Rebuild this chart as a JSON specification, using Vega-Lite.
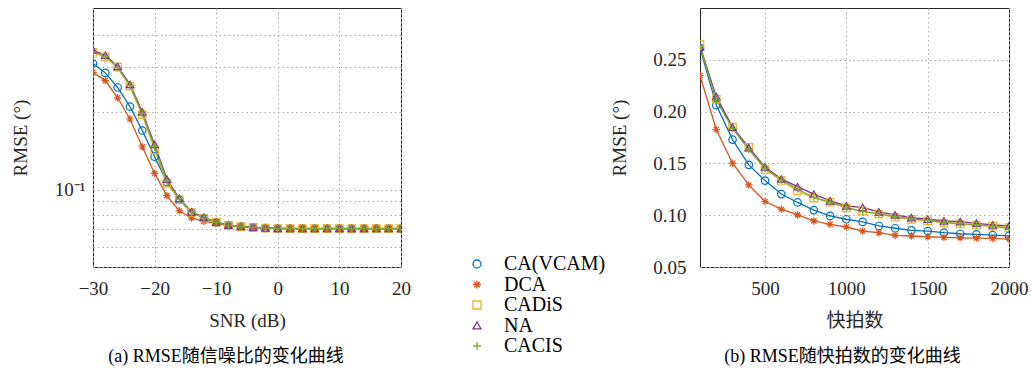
{
  "$schema": "https://vega.github.io/schema/vega-lite/v6.json",
  "background": "white",
  "padding": {"left": 10, "top": 7, "right": 0, "bottom": 0},
  "spacing": 198,
  "datasets": {
    "a": [
      {"s":"CA(VCAM)","x":-30,"v":0.310},{"s":"CA(VCAM)","x":-28,"v":0.285},{"s":"CA(VCAM)","x":-26,"v":0.250},{"s":"CA(VCAM)","x":-24,"v":0.2105},{"s":"CA(VCAM)","x":-22,"v":0.170},{"s":"CA(VCAM)","x":-20,"v":0.1345},{"s":"CA(VCAM)","x":-18,"v":0.107},{"s":"CA(VCAM)","x":-16,"v":0.0915},{"s":"CA(VCAM)","x":-14,"v":0.0815},{"s":"CA(VCAM)","x":-12,"v":0.0774},{"s":"CA(VCAM)","x":-10,"v":0.0745},{"s":"CA(VCAM)","x":-8,"v":0.0727},{"s":"CA(VCAM)","x":-6,"v":0.0718},{"s":"CA(VCAM)","x":-4,"v":0.0713},{"s":"CA(VCAM)","x":-2,"v":0.0709},{"s":"CA(VCAM)","x":0,"v":0.0706},{"s":"CA(VCAM)","x":2,"v":0.0705},{"s":"CA(VCAM)","x":4,"v":0.0705},{"s":"CA(VCAM)","x":6,"v":0.0705},{"s":"CA(VCAM)","x":8,"v":0.0705},{"s":"CA(VCAM)","x":10,"v":0.0705},{"s":"CA(VCAM)","x":12,"v":0.0705},{"s":"CA(VCAM)","x":14,"v":0.0705},{"s":"CA(VCAM)","x":16,"v":0.0705},{"s":"CA(VCAM)","x":18,"v":0.0705},{"s":"CA(VCAM)","x":20,"v":0.0705},
      {"s":"DCA","x":-30,"v":0.286},{"s":"DCA","x":-28,"v":0.266},{"s":"DCA","x":-26,"v":0.228},{"s":"DCA","x":-24,"v":0.1885},{"s":"DCA","x":-22,"v":0.147},{"s":"DCA","x":-20,"v":0.1157},{"s":"DCA","x":-18,"v":0.0948},{"s":"DCA","x":-16,"v":0.0828},{"s":"DCA","x":-14,"v":0.0776},{"s":"DCA","x":-12,"v":0.0753},{"s":"DCA","x":-10,"v":0.0740},{"s":"DCA","x":-8,"v":0.0724},{"s":"DCA","x":-6,"v":0.0716},{"s":"DCA","x":-4,"v":0.0711},{"s":"DCA","x":-2,"v":0.0708},{"s":"DCA","x":0,"v":0.0706},{"s":"DCA","x":2,"v":0.0705},{"s":"DCA","x":4,"v":0.0705},{"s":"DCA","x":6,"v":0.0705},{"s":"DCA","x":8,"v":0.0705},{"s":"DCA","x":10,"v":0.0705},{"s":"DCA","x":12,"v":0.0705},{"s":"DCA","x":14,"v":0.0705},{"s":"DCA","x":16,"v":0.0705},{"s":"DCA","x":18,"v":0.0705},{"s":"DCA","x":20,"v":0.0705},
      {"s":"CADiS","x":-30,"v":0.343},{"s":"CADiS","x":-28,"v":0.329},{"s":"CADiS","x":-26,"v":0.300},{"s":"CADiS","x":-24,"v":0.253},{"s":"CADiS","x":-22,"v":0.196},{"s":"CADiS","x":-20,"v":0.143},{"s":"CADiS","x":-18,"v":0.106},{"s":"CADiS","x":-16,"v":0.0915},{"s":"CADiS","x":-14,"v":0.0815},{"s":"CADiS","x":-12,"v":0.0776},{"s":"CADiS","x":-10,"v":0.0747},{"s":"CADiS","x":-8,"v":0.0728},{"s":"CADiS","x":-6,"v":0.0718},{"s":"CADiS","x":-4,"v":0.0713},{"s":"CADiS","x":-2,"v":0.0709},{"s":"CADiS","x":0,"v":0.0706},{"s":"CADiS","x":2,"v":0.0705},{"s":"CADiS","x":4,"v":0.0705},{"s":"CADiS","x":6,"v":0.0705},{"s":"CADiS","x":8,"v":0.0705},{"s":"CADiS","x":10,"v":0.0705},{"s":"CADiS","x":12,"v":0.0705},{"s":"CADiS","x":14,"v":0.0705},{"s":"CADiS","x":16,"v":0.0705},{"s":"CADiS","x":18,"v":0.0705},{"s":"CADiS","x":20,"v":0.0705},
      {"s":"NA","x":-30,"v":0.350},{"s":"NA","x":-28,"v":0.334},{"s":"NA","x":-26,"v":0.302},{"s":"NA","x":-24,"v":0.257},{"s":"NA","x":-22,"v":0.201},{"s":"NA","x":-20,"v":0.150},{"s":"NA","x":-18,"v":0.110},{"s":"NA","x":-16,"v":0.0925},{"s":"NA","x":-14,"v":0.0820},{"s":"NA","x":-12,"v":0.0780},{"s":"NA","x":-10,"v":0.0748},{"s":"NA","x":-8,"v":0.0728},{"s":"NA","x":-6,"v":0.0719},{"s":"NA","x":-4,"v":0.0714},{"s":"NA","x":-2,"v":0.0710},{"s":"NA","x":0,"v":0.0707},{"s":"NA","x":2,"v":0.0706},{"s":"NA","x":4,"v":0.0706},{"s":"NA","x":6,"v":0.0706},{"s":"NA","x":8,"v":0.0706},{"s":"NA","x":10,"v":0.0706},{"s":"NA","x":12,"v":0.0706},{"s":"NA","x":14,"v":0.0706},{"s":"NA","x":16,"v":0.0706},{"s":"NA","x":18,"v":0.0706},{"s":"NA","x":20,"v":0.0706},
      {"s":"CACIS","x":-30,"v":0.345},{"s":"CACIS","x":-28,"v":0.330},{"s":"CACIS","x":-26,"v":0.299},{"s":"CACIS","x":-24,"v":0.254},{"s":"CACIS","x":-22,"v":0.198},{"s":"CACIS","x":-20,"v":0.147},{"s":"CACIS","x":-18,"v":0.108},{"s":"CACIS","x":-16,"v":0.0920},{"s":"CACIS","x":-14,"v":0.0816},{"s":"CACIS","x":-12,"v":0.0776},{"s":"CACIS","x":-10,"v":0.0746},{"s":"CACIS","x":-8,"v":0.0727},{"s":"CACIS","x":-6,"v":0.0718},{"s":"CACIS","x":-4,"v":0.0713},{"s":"CACIS","x":-2,"v":0.0709},{"s":"CACIS","x":0,"v":0.0706},{"s":"CACIS","x":2,"v":0.0705},{"s":"CACIS","x":4,"v":0.0705},{"s":"CACIS","x":6,"v":0.0705},{"s":"CACIS","x":8,"v":0.0705},{"s":"CACIS","x":10,"v":0.0705},{"s":"CACIS","x":12,"v":0.0705},{"s":"CACIS","x":14,"v":0.0705},{"s":"CACIS","x":16,"v":0.0705},{"s":"CACIS","x":18,"v":0.0705},{"s":"CACIS","x":20,"v":0.0705}
    ],
    "b": [
      {"s":"CA(VCAM)","x":100,"v":0.2615},{"s":"CA(VCAM)","x":200,"v":0.2063},{"s":"CA(VCAM)","x":300,"v":0.173},{"s":"CA(VCAM)","x":400,"v":0.1486},{"s":"CA(VCAM)","x":500,"v":0.1334},{"s":"CA(VCAM)","x":600,"v":0.1204},{"s":"CA(VCAM)","x":700,"v":0.1123},{"s":"CA(VCAM)","x":800,"v":0.1049},{"s":"CA(VCAM)","x":900,"v":0.0993},{"s":"CA(VCAM)","x":1000,"v":0.0961},{"s":"CA(VCAM)","x":1100,"v":0.0935},{"s":"CA(VCAM)","x":1200,"v":0.0896},{"s":"CA(VCAM)","x":1300,"v":0.0874},{"s":"CA(VCAM)","x":1400,"v":0.0854},{"s":"CA(VCAM)","x":1500,"v":0.0847},{"s":"CA(VCAM)","x":1600,"v":0.0831},{"s":"CA(VCAM)","x":1700,"v":0.0821},{"s":"CA(VCAM)","x":1800,"v":0.0815},{"s":"CA(VCAM)","x":1900,"v":0.0808},{"s":"CA(VCAM)","x":2000,"v":0.0800},
      {"s":"DCA","x":100,"v":0.2348},{"s":"DCA","x":200,"v":0.1827},{"s":"DCA","x":300,"v":0.1502},{"s":"DCA","x":400,"v":0.1292},{"s":"DCA","x":500,"v":0.1132},{"s":"DCA","x":600,"v":0.1058},{"s":"DCA","x":700,"v":0.1003},{"s":"DCA","x":800,"v":0.0945},{"s":"DCA","x":900,"v":0.0912},{"s":"DCA","x":1000,"v":0.0886},{"s":"DCA","x":1100,"v":0.0847},{"s":"DCA","x":1200,"v":0.0831},{"s":"DCA","x":1300,"v":0.0805},{"s":"DCA","x":1400,"v":0.0799},{"s":"DCA","x":1500,"v":0.0792},{"s":"DCA","x":1600,"v":0.0786},{"s":"DCA","x":1700,"v":0.0782},{"s":"DCA","x":1800,"v":0.0779},{"s":"DCA","x":1900,"v":0.0776},{"s":"DCA","x":2000,"v":0.0770},
      {"s":"CADiS","x":100,"v":0.2650},{"s":"CADiS","x":200,"v":0.2120},{"s":"CADiS","x":300,"v":0.1850},{"s":"CADiS","x":400,"v":0.1655},{"s":"CADiS","x":500,"v":0.1440},{"s":"CADiS","x":600,"v":0.1335},{"s":"CADiS","x":700,"v":0.1235},{"s":"CADiS","x":800,"v":0.1165},{"s":"CADiS","x":900,"v":0.1125},{"s":"CADiS","x":1000,"v":0.1070},{"s":"CADiS","x":1100,"v":0.1040},{"s":"CADiS","x":1200,"v":0.1010},{"s":"CADiS","x":1300,"v":0.0980},{"s":"CADiS","x":1400,"v":0.0960},{"s":"CADiS","x":1500,"v":0.0945},{"s":"CADiS","x":1600,"v":0.0925},{"s":"CADiS","x":1700,"v":0.0915},{"s":"CADiS","x":1800,"v":0.0905},{"s":"CADiS","x":1900,"v":0.0895},{"s":"CADiS","x":2000,"v":0.0880},
      {"s":"NA","x":100,"v":0.2625},{"s":"NA","x":200,"v":0.2145},{"s":"NA","x":300,"v":0.1850},{"s":"NA","x":400,"v":0.1652},{"s":"NA","x":500,"v":0.1465},{"s":"NA","x":600,"v":0.1350},{"s":"NA","x":700,"v":0.1275},{"s":"NA","x":800,"v":0.1204},{"s":"NA","x":900,"v":0.1139},{"s":"NA","x":1000,"v":0.1090},{"s":"NA","x":1100,"v":0.1074},{"s":"NA","x":1200,"v":0.1032},{"s":"NA","x":1300,"v":0.1003},{"s":"NA","x":1400,"v":0.0977},{"s":"NA","x":1500,"v":0.0961},{"s":"NA","x":1600,"v":0.0945},{"s":"NA","x":1700,"v":0.0938},{"s":"NA","x":1800,"v":0.0922},{"s":"NA","x":1900,"v":0.0906},{"s":"NA","x":2000,"v":0.0896},
      {"s":"CACIS","x":100,"v":0.2630},{"s":"CACIS","x":200,"v":0.2110},{"s":"CACIS","x":300,"v":0.1837},{"s":"CACIS","x":400,"v":0.1632},{"s":"CACIS","x":500,"v":0.1453},{"s":"CACIS","x":600,"v":0.1340},{"s":"CACIS","x":700,"v":0.1253},{"s":"CACIS","x":800,"v":0.1171},{"s":"CACIS","x":900,"v":0.1123},{"s":"CACIS","x":1000,"v":0.1074},{"s":"CACIS","x":1100,"v":0.1035},{"s":"CACIS","x":1200,"v":0.1016},{"s":"CACIS","x":1300,"v":0.0986},{"s":"CACIS","x":1400,"v":0.0964},{"s":"CACIS","x":1500,"v":0.0951},{"s":"CACIS","x":1600,"v":0.0932},{"s":"CACIS","x":1700,"v":0.0918},{"s":"CACIS","x":1800,"v":0.0906},{"s":"CACIS","x":1900,"v":0.0893},{"s":"CACIS","x":2000,"v":0.0874}
    ]
  },
  "resolve": {"scale": {"color": "shared", "shape": "shared", "x": "independent", "y": "independent"}, "legend": {"color": "shared", "shape": "shared"}},
  "hconcat": [
    {
      "width": 308,
      "height": 259,
      "data": {"name": "a"},
      "title": {"text": "(a) RMSE随信噪比的变化曲线", "orient": "bottom", "anchor": "middle", "dx": -21, "offset": 18, "font": "Liberation Serif, Noto Sans CJK SC", "fontSize": 18, "fontWeight": "normal", "color": "#000000"},
      "layer": [
        {
          "mark": {"type": "line", "strokeWidth": 1.3, "clip": true},
          "encoding": {
            "x": {"field": "x", "type": "quantitative", "scale": {"domain": [-30, 20], "nice": false, "zero": false}, "axis": {"values": [-30, -20, -10, 0, 10, 20], "title": "SNR (dB)", "labelPadding": 12, "titlePadding": 13, "labelFlush": false}},
            "y": {"field": "v", "type": "quantitative", "scale": {"type": "log", "domain": [0.05, 0.51], "nice": false}, "axis": {"values": [0.05, 0.06, 0.07, 0.08, 0.09, 0.1, 0.2, 0.3, 0.4], "labelExpr": "datum.value == 0.1 ? '10⁻¹' : ''", "labelOverlap": false, "title": "RMSE (°)", "labelPadding": 8, "titlePadding": 24}},
            "color": {"field": "s", "type": "nominal", "scale": {"domain": ["CA(VCAM)", "DCA", "CADiS", "NA", "CACIS"], "range": ["#0072BD", "#D95319", "#EDB120", "#7E2F8E", "#77AC30"]}, "legend": {"orient": "none", "legendX": 374, "legendY": 246, "title": null, "labelFont": "Liberation Serif", "labelFontSize": 20, "labelColor": "#000000", "symbolSize": 64, "symbolStrokeWidth": 1.3, "labelOffset": 17, "rowPadding": 0.5, "padding": 0}}
          }
        },
        {
          "mark": {"type": "point", "filled": false, "size": 56, "strokeWidth": 1.2, "opacity": 1, "clip": true},
          "encoding": {
            "x": {"field": "x", "type": "quantitative"},
            "y": {"field": "v", "type": "quantitative"},
            "color": {"field": "s", "type": "nominal"},
            "shape": {"field": "s", "type": "nominal", "scale": {"domain": ["CA(VCAM)", "DCA", "CADiS", "NA", "CACIS"], "range": ["circle", "M-1,0L1,0M0,-1L0,1M-0.7,-0.7L0.7,0.7M-0.7,0.7L0.7,-0.7", "square", "triangle-up", "M-1,0L1,0M0,-1L0,1"]}, "legend": null}
          }
        }
      ]
    },
    {
      "width": 309,
      "height": 259,
      "data": {"name": "b"},
      "title": {"text": "(b) RMSE随快拍数的变化曲线", "orient": "bottom", "anchor": "middle", "dx": -12, "offset": 18, "font": "Liberation Serif, Noto Sans CJK SC", "fontSize": 18, "fontWeight": "normal", "color": "#000000"},
      "layer": [
        {
          "mark": {"type": "line", "strokeWidth": 1.3, "clip": true},
          "encoding": {
            "x": {"field": "x", "type": "quantitative", "scale": {"domain": [100, 2000], "nice": false, "zero": false}, "axis": {"values": [500, 1000, 1500, 2000], "format": "d", "title": "快拍数", "labelPadding": 12, "titlePadding": 13, "labelFlush": false}},
            "y": {"field": "v", "type": "quantitative", "scale": {"domain": [0.05, 0.30], "nice": false, "zero": false}, "axis": {"values": [0.05, 0.10, 0.15, 0.20, 0.25], "format": ".2f", "title": "RMSE (°)", "labelPadding": 14, "titlePadding": 23.5}},
            "color": {"field": "s", "type": "nominal"}
          }
        },
        {
          "mark": {"type": "point", "filled": false, "size": 56, "strokeWidth": 1.2, "opacity": 1, "clip": true},
          "encoding": {
            "x": {"field": "x", "type": "quantitative"},
            "y": {"field": "v", "type": "quantitative"},
            "color": {"field": "s", "type": "nominal"},
            "shape": {"field": "s", "type": "nominal", "legend": null}
          }
        }
      ]
    }
  ],
  "config": {
    "font": "Liberation Serif",
    "view": {"stroke": "#262626", "strokeWidth": 1},
    "axis": {"ticks": false, "domain": false, "grid": true, "gridDash": [1.5, 3], "gridColor": "#a8a8a8", "gridWidth": 1, "labelFont": "Liberation Serif", "labelFontSize": 19, "labelColor": "#262626", "titleFont": "Liberation Serif, Noto Sans CJK SC", "titleFontSize": 19, "titleFontWeight": "normal", "titleColor": "#262626"}
  }
}
